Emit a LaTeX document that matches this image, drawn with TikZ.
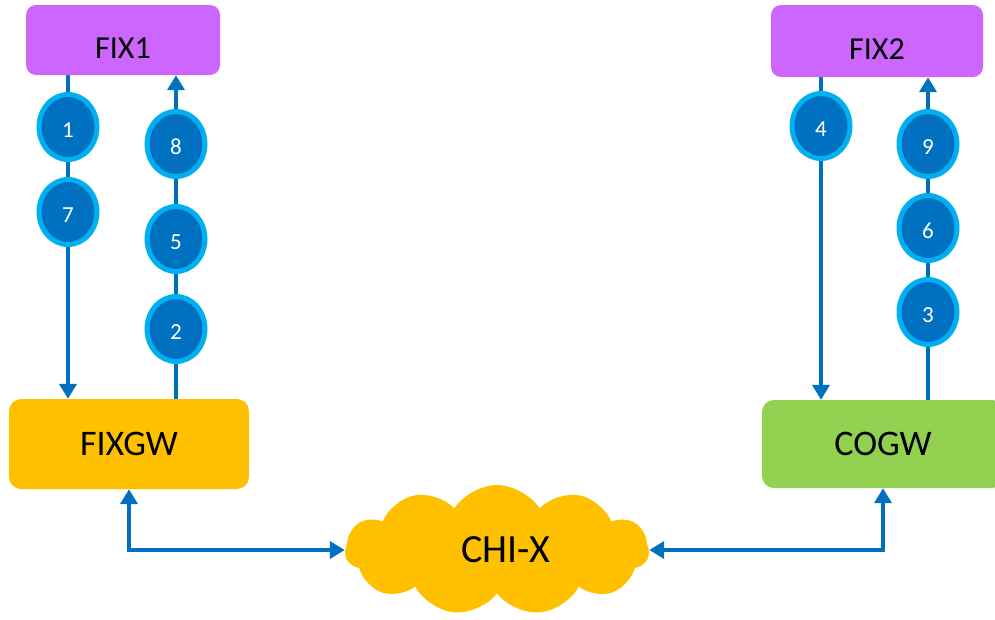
\documentclass[tikz,border=0pt]{standalone}
\usepackage{fontspec}
\setmainfont{Carlito}
\usetikzlibrary{arrows.meta,shapes.geometric,shapes.symbols,backgrounds}
\definecolor{fixpurple}{HTML}{CC66FF}
\definecolor{gworange}{HTML}{FFC000}
\definecolor{gwgreen}{HTML}{92D050}
\definecolor{lineblue}{HTML}{0070C0}
\definecolor{ringblue}{HTML}{00B0F0}
\tikzset{
  fixbox/.style={rectangle, rounded corners=10pt, fill=fixpurple, inner sep=0pt,
    font=\fontsize{32}{36}\selectfont, text height=36pt, text depth=0pt},
  gwbox/.style={rectangle, rounded corners=12pt, inner sep=0pt,
    font=\fontsize{36}{40}\selectfont},
  stepcirc/.style={ellipse, fill=lineblue, draw=ringblue, line width=5pt,
    minimum width=58pt, minimum height=65pt, inner sep=0pt, text=white,
    font=\fontsize{23}{24}\selectfont, text height=21pt, text depth=0pt},
  conn/.style={draw=lineblue, line width=4.5pt},
  tip/.style={-{Triangle[width=17pt,length=15pt]}},
  dtip/.style={{Triangle[width=17pt,length=15pt]}-{Triangle[width=17pt,length=15pt]}},
}
\begin{document}
\begin{tikzpicture}[x=1pt,y=-1pt]
\useasboundingbox (0,0) rectangle (995,619);
% boxes
\node[fixbox, minimum width=194pt, minimum height=70pt] (fix1) at (123,40) {FIX1};
\node[fixbox, minimum width=212pt, minimum height=72pt] (fix2) at (877,41) {FIX2};
\node[gwbox, fill=gworange, minimum width=240pt, minimum height=90pt] (fixgw) at (129,444) {FIXGW};
\node[gwbox, fill=gwgreen, minimum width=242pt, minimum height=88pt] (cogw) at (883,444) {COGW};
\node[cloud, cloud puffs=11, cloud puff arc=115, aspect=2.4, fill=gworange, inner sep=0pt,
  minimum width=304pt, minimum height=130pt, font=\fontsize{40}{44}\selectfont] (chix) at (497,550) {\hspace*{18pt}CHI-X};
% step circles
\node[stepcirc] (c1) at (68,127) {1};
\node[stepcirc] (c7) at (68,212) {7};
\node[stepcirc] (c8) at (176,144) {8};
\node[stepcirc] (c5) at (176,239) {5};
\node[stepcirc] (c2) at (176,329) {2};
\node[stepcirc] (c4) at (821,126) {4};
\node[stepcirc] (c9) at (928,144) {9};
\node[stepcirc] (c6) at (928,228) {6};
\node[stepcirc] (c3) at (928,312) {3};
% connectors
\begin{scope}[on background layer]
\draw[conn, tip] (c1 |- fix1.south) -- (c1 |- fixgw.north);
\draw[conn, tip] (c2 |- fixgw.north) -- (c2 |- fix1.south);
\draw[conn, tip] (c4 |- fix2.south) -- (c4 |- cogw.north);
\draw[conn, tip] (c3 |- cogw.north) -- (c3 |- fix2.south);
\draw[conn, dtip] (fixgw.south) |- (chix.west);
\draw[conn, dtip] (cogw.south) |- (chix.east);
\end{scope}
\end{tikzpicture}
\end{document}
